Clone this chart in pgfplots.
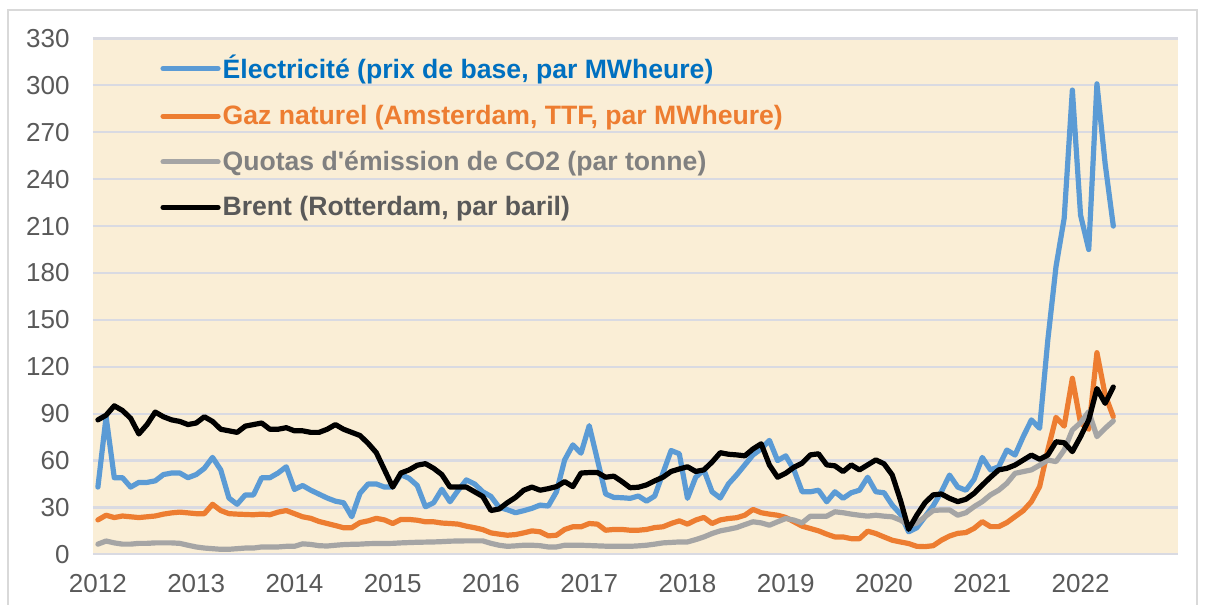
\documentclass[border=0pt]{standalone}
\usepackage{pgfplots}
\pgfplotsset{compat=1.18}
\usepackage{pgfplotstable}
\usepackage{fontspec}
\setmainfont{Liberation Sans}[Ligatures=TeXOff]

\definecolor{elec}{HTML}{5B9BD5}
\definecolor{electxt}{HTML}{0070C0}
\definecolor{gaz}{HTML}{ED7D31}
\definecolor{quota}{HTML}{A5A5A5}
\definecolor{quotatxt}{HTML}{808080}
\definecolor{brenttxt}{HTML}{595959}
\definecolor{ticktxt}{HTML}{595959}
\definecolor{fond}{HTML}{FAEED6}
\definecolor{grille}{HTML}{D9DAE2}
\definecolor{cadre}{HTML}{D9D9D9}

% month index (0 = Jan 2012), electricity, gas, CO2, Brent
\pgfplotstableread{
m e g c b
0 43 22 6.5 86
1 88 25 8.5 89
2 49 23.5 7.3 95
3 49 24.5 6.5 92
4 43 24 6.5 87
5 46 23.5 7 77
6 46 24 7 83
7 47 24.5 7.3 91
8 51 25.7 7.3 88
9 52 26.5 7.3 86
10 52 27 7 85
11 49 26.5 5.8 83
12 51 26 4.7 84
13 55 26 4 88
14 62 32 3.6 85
15 54 28 3.2 80
16 36 26 3.2 79
17 32 25.7 3.6 78
18 38 25.5 4 82
19 38 25.3 4 83
20 49 25.7 4.7 84
21 49 25.3 4.7 80
22 52 27 4.7 80
23 56 28 5.1 81
24 41.5 26 5.1 79
25 44 24 6.7 79
26 41 23 6.3 78
27 38.5 21 5.5 78
28 36 19.7 5.3 80
29 34 18.4 5.8 83
30 33 17 6.2 80
31 24 17 6.4 78
32 39 20.3 6.5 76
33 45 21.4 6.8 71
34 45 23 6.9 65
35 43 22 6.9 54
36 43 19.7 7 43
37 51 22.3 7.3 52
38 48.6 22.3 7.5 54
39 44 21.8 7.7 57
40 30.4 20.8 7.8 58
41 33 20.8 7.9 55
42 41.6 20 8.1 51
43 33.6 19.7 8.4 43
44 41 19.3 8.5 43
45 47.6 18 8.6 43
46 45 17 8.6 40
47 40 15.8 8.6 37
48 37 13.7 7 28
49 30 12.9 5.8 29
50 28.5 12.2 5.1 33
51 26.6 12.6 5.4 36.4
52 27.9 13.7 5.8 41
53 29.4 15 5.8 43
54 31.5 14.4 5.5 41
55 30.9 11.8 4.7 42
56 40 12.2 4.7 43.3
57 60.4 15.9 5.8 46.5
58 70 17.6 5.8 43.3
59 64.7 17.6 5.8 52
60 82.3 19.7 5.6 52.3
61 60.4 19.3 5.4 52.3
62 38.6 15.4 5.2 49.3
63 36.4 15.9 5.1 50
64 36.2 15.9 5.1 46.5
65 35.8 15.4 5.1 42.6
66 37.3 15.4 5.4 42.9
67 34 15.9 5.8 44.4
68 37.3 17.1 6.5 47
69 51.9 17.6 7.3 49.3
70 66.4 19.7 7.6 53
71 64.3 21.4 7.9 54.6
72 35.8 19.3 7.9 56
73 49.3 21.9 9.4 53
74 54 23.6 11.1 54
75 40 19.7 13.3 59
76 36 22 15 65
77 45 22.9 16 64
78 50.8 23.4 17.1 63.6
79 57.2 25 19 63
80 63.6 28.7 20.8 67.4
81 67.4 26.6 20.1 70.7
82 72.9 25.7 18.6 57.2
83 60 25 20.8 49.3
84 63 23.6 22.9 51.9
85 54 20.8 21.9 55.7
86 40 18 20.1 58.3
87 40 16.5 24.4 63.6
88 41 15 24.4 64.3
89 33.6 12.9 24.4 57.2
90 40 11.1 27.2 56.6
91 35.8 11.1 26.6 52.9
92 39.4 10 25.7 57.2
93 41 10 25 54
94 49.3 14.8 24.4 57.2
95 40 13.3 25 60.4
96 39.4 11.1 24.4 57.9
97 31.5 9 24 50.8
98 25.7 7.9 21.9 34.7
99 14.4 6.9 18.6 16
100 17 5.1 20 25
101 24 4.9 24 33
102 31 5.5 28 38
103 40 9 28.4 38.6
104 50.7 11.7 28.4 35.8
105 43 13.4 25 33.7
106 41 13.9 26.6 35.2
107 48 16.6 30.5 39
108 62 20.9 33.7 44.3
109 54 17.7 38 49.3
110 56 17.7 41 54
111 66.7 20.3 45.4 55
112 63.5 24.1 51.8 57.1
113 75.3 27.9 52.9 60.3
114 86 33.7 54 63.5
115 80.6 43.3 57 60.8
116 137 66.7 60.3 63.5
117 184 87.6 59.3 72
118 215 82 66.7 71.4
119 297 112.6 79.5 65.7
120 217 84 84.2 75.3
121 195 80 91.3 86
122 301 129 75.3 106
123 250 102 80.6 96.6
124 210 88 85.3 107
}\prix

\begin{document}
\begin{tikzpicture}
\useasboundingbox (-46.5pt,-25.35pt) rectangle (556pt,277.15pt);
\draw[cadre, line width=1pt] (-42.5pt,-40pt) -- (-42.5pt,272.15pt) -- (552pt,272.15pt) -- (552pt,-40pt);
\begin{axis}[
  at={(0,0)}, anchor=south west,
  scale only axis,
  width=542.5pt, height=257.9pt,
  xmin=-0.6, xmax=131.9,
  ymin=0, ymax=330,
  xtick={0,12,...,120},
  xticklabels={2012,2013,2014,2015,2016,2017,2018,2019,2020,2021,2022},
  ytick={0,30,...,330},
  major tick length=0pt,
  axis line style={draw=none},
  ymajorgrids,
  major grid style={draw=grille, line width=1.1pt},
  axis background/.style={fill=fond},
  /pgf/number format/assume math mode=true,
  tick label style={font=\fontsize{13}{15}\selectfont, text=ticktxt, inner sep=0pt},
  yticklabel style={anchor=east, xshift=-11.5pt},
  xticklabel style={anchor=north, yshift=-10pt},
  legend style={at={(0.0618,0.972)}, anchor=north west, draw=none, fill=none,
    font=\fontsize{13.3}{15}\selectfont\bfseries, inner sep=0pt,
    row sep=9.6pt, nodes={inner sep=1pt}, cells={anchor=west}},
  legend image code/.code={\draw[#1] (0pt,0pt) -- (27.5pt,0pt);},
  every axis plot/.append style={line width=2.6pt, line join=round, line cap=round},
]
\addplot[elec] table[x=m, y=e] {\prix};
\addlegendentry{\textcolor{electxt}{Électricité (prix de base, par MWheure)}}
\addplot[gaz] table[x=m, y=g] {\prix};
\addlegendentry{\textcolor{gaz}{Gaz naturel (Amsterdam, TTF, par MWheure)}}
\addplot[quota] table[x=m, y=c] {\prix};
\addlegendentry{\textcolor{quotatxt}{Quotas d'émission de CO2 (par tonne)}}
\addplot[black] table[x=m, y=b] {\prix};
\addlegendentry{\textcolor{brenttxt}{Brent (Rotterdam, par baril)}}
\end{axis}
\end{tikzpicture}
\end{document}
